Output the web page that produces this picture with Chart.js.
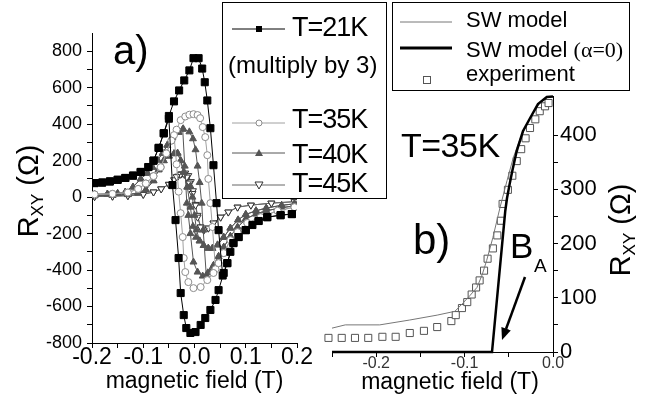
<!DOCTYPE html>
<html>
<head>
<meta charset="utf-8">
<script src="https://cdn.jsdelivr.net/npm/chart.js@4.4.1/dist/chart.umd.min.js"></script>
<style>
  body { margin: 0; background: #fff; }
  #wrap { position: relative; width: 663px; height: 403px; overflow: hidden;
          font-family: "Liberation Sans", Arial, sans-serif; color: #000; }
  canvas { position: absolute; top: 0; }
  .t { position: absolute; white-space: nowrap; line-height: 1; }
  .rot { transform: translate(-50%, -50%) rotate(-90deg); }
  .box { position: absolute; border: 1px solid #000; background: #fff; }
  .serif { font-family: "Liberation Serif", "Times New Roman", serif; }
</style>
</head>
<body>
<div id="wrap">
  <canvas id="chartA" width="330" height="403" style="left:0"></canvas>
  <canvas id="chartB" width="363" height="403" style="left:300px"></canvas>

  <!-- legend boxes -->
  <div class="box" style="left:222px;top:2px;width:163px;height:195px"></div>
  <div class="box" style="left:392px;top:2px;width:236px;height:87px"></div>

  <svg width="663" height="403" style="position:absolute;left:0;top:0">
    <line x1="232" y1="29" x2="285" y2="29" stroke="#000" stroke-width="1"/>
    <rect x="256" y="26" width="6" height="6" fill="#000"/>
    <line x1="232" y1="123" x2="285" y2="123" stroke="#a0a0a0" stroke-width="1"/>
    <circle cx="259" cy="123" r="3" fill="#fff" stroke="#8c8c8c"/>
    <line x1="232" y1="153" x2="285" y2="153" stroke="#555" stroke-width="1"/>
    <polygon points="259,149 263,156 255,156" fill="#555"/>
    <line x1="232" y1="185" x2="285" y2="185" stroke="#666" stroke-width="1"/>
    <polygon points="255,182 263,182 259,189" fill="#fff" stroke="#333"/>

    <line x1="400" y1="22" x2="452" y2="22" stroke="#777" stroke-width="1"/>
    <line x1="400" y1="48" x2="452" y2="48" stroke="#000" stroke-width="3"/>
    <rect x="423.5" y="76.5" width="7" height="7" fill="#fff" stroke="#555"/>

    <line x1="525" y1="277" x2="506" y2="329" stroke="#000" stroke-width="2.5"/>
    <polygon points="502,340 510.8,330.4 501.4,327" fill="#000"/>
  </svg>

  <div class="t" style="left:292px;top:14px;font-size:27px;letter-spacing:-1px">T=21K</div>
  <div class="t" style="left:228px;top:53px;font-size:24px">(multiply by 3)</div>
  <div class="t" style="left:292px;top:106px;font-size:27px;letter-spacing:-1px">T=35K</div>
  <div class="t" style="left:292px;top:141px;font-size:27px;letter-spacing:-1px">T=40K</div>
  <div class="t" style="left:292px;top:170px;font-size:27px;letter-spacing:-1px">T=45K</div>

  <div class="t" style="left:466px;top:9px;font-size:22px">SW model</div>
  <div class="t" style="left:466px;top:39px;font-size:22px">SW model <span class="serif">(α=0)</span></div>
  <div class="t" style="left:466px;top:63px;font-size:22px">experiment</div>

  <div class="t" style="left:113px;top:30px;font-size:40px">a)</div>
  <div class="t" style="left:413px;top:219px;font-size:42px">b)</div>
  <div class="t" style="left:401px;top:128px;font-size:34px;letter-spacing:-0.5px">T=35K</div>
  <div class="t" style="left:510px;top:228px;font-size:35px">B</div>
  <div class="t" style="left:534px;top:256px;font-size:19px">A</div>

  <div class="t rot" style="left:30px;top:191px;font-size:29px">R<span style="font-size:17px;vertical-align:-5px">XY</span> (Ω)</div>
  <div class="t rot" style="left:622px;top:230px;font-size:29px">R<span style="font-size:17px;vertical-align:-5px">XY</span> (Ω)</div>
  <div class="t" style="left:450px;top:370px;font-size:23px;transform:translateX(-50%)">magnetic field (T)</div>
</div>

<script>
// panel a) : field sweeps up then back down, R_XY in ohm
const t21UpField = [-0.195,-0.18,-0.165,-0.15,-0.135,-0.12,-0.105,-0.09,-0.08,-0.07,-0.06,-0.05,-0.04,-0.03,-0.02,-0.01,-0.002,0.008,0.015,0.02,0.025,0.031,0.037,0.043,0.047,0.055,0.064,0.076,0.086,0.1,0.125,0.142,0.168,0.19];
const t21UpR = [77,80,86,95,105,118,138,165,200,270,350,445,525,585,640,695,762,762,705,630,530,378,175,-33,-181,-430,-362,-252,-219,-181,-131,-110,-99,-93];
const t21DownField = [0.19,0.168,0.142,0.125,0.113,0.1,0.086,0.076,0.07,0.064,0.057,0.047,0.041,0.031,0.021,0.012,0.002,-0.008,-0.016,-0.021,-0.027,-0.031,-0.037,-0.043,-0.05,-0.06,-0.07,-0.08,-0.09,-0.105,-0.12,-0.135,-0.15,-0.165,-0.18,-0.195];
const t21DownR = [-93,-99,-110,-131,-153,-181,-219,-252,-300,-362,-416,-510,-564,-619,-663,-701,-740,-745,-718,-647,-526,-334,-126,66,430,350,270,200,165,138,118,105,95,86,80,77];

const t35UpField = [-0.195,-0.16,-0.13,-0.11,-0.095,-0.08,-0.066,-0.055,-0.045,-0.035,-0.027,-0.018,-0.01,-0.002,0.006,0.011,0.016,0.021,0.025,0.027,0.031,0.035,0.041,0.047,0.057,0.07,0.084,0.103,0.129,0.162,0.195];
const t35UpR = [15,18,25,45,75,115,164,240,310,370,422,442,452,455,450,433,384,329,230,100,-33,-164,-395,-362,-307,-236,-192,-142,-110,-75,-55];
const t35DownField = [0.195,0.162,0.129,0.103,0.084,0.07,0.057,0.047,0.037,0.025,0.012,-0.002,-0.012,-0.018,-0.021,-0.023,-0.027,-0.031,-0.035,-0.04,-0.045,-0.055,-0.066,-0.08,-0.095,-0.11,-0.13,-0.16,-0.195];
const t35DownR = [-55,-75,-110,-142,-192,-236,-307,-362,-416,-455,-493,-499,-466,-411,-334,-219,-88,30,180,340,310,240,164,115,75,45,25,18,15];

const t40UpField = [-0.195,-0.17,-0.15,-0.135,-0.12,-0.105,-0.092,-0.082,-0.072,-0.062,-0.053,-0.043,-0.031,-0.022,-0.01,-0.003,0.002,0.006,0.01,0.014,0.017,0.023,0.03,0.037,0.047,0.057,0.07,0.084,0.1,0.12,0.14,0.17,0.195];
const t40UpR = [15,17,20,28,55,100,131,164,203,241,285,329,356,375,358,320,260,170,80,-33,-181,-430,-410,-375,-325,-275,-215,-165,-120,-92,-75,-58,-48];
const t40DownField = [0.195,0.17,0.14,0.12,0.1,0.084,0.07,0.057,0.047,0.037,0.026,0.016,0.006,-0.002,-0.008,-0.012,-0.015,-0.019,-0.023,-0.031,-0.043,-0.053,-0.062,-0.072,-0.082,-0.092,-0.105,-0.12,-0.135,-0.15,-0.17,-0.195];
const t40DownR = [-48,-58,-75,-92,-120,-165,-215,-275,-325,-375,-415,-433,-411,-356,-200,-100,-33,170,372,356,329,285,241,203,164,131,100,55,28,20,17,15];

// second filled-triangle curve (no own legend entry)
const t40bUpField = [-0.195,-0.16,-0.13,-0.11,-0.095,-0.08,-0.07,-0.06,-0.05,-0.04,-0.033,-0.027,-0.021,-0.014,-0.008,-0.003,0.003,0.01,0.018,0.027,0.035,0.045,0.057,0.07,0.085,0.1,0.12,0.14,0.17,0.195];
const t40bUpR = [8,10,14,22,40,90,150,200,225,238,241,200,137,55,-55,-160,-220,-240,-265,-280,-280,-262,-220,-170,-125,-95,-75,-60,-45,-37];
const t40bDownField = [0.195,0.17,0.14,0.12,0.1,0.085,0.07,0.057,0.045,0.035,0.027,0.018,0.01,0.004,0.0,-0.004,-0.008,-0.014,-0.021,-0.027,-0.033,-0.04,-0.05,-0.06,-0.07,-0.08,-0.095,-0.11,-0.13,-0.16,-0.195];
const t40bDownR = [-37,-45,-60,-75,-95,-125,-170,-220,-262,-280,-280,-265,-240,-180,-100,0,60,55,137,200,241,238,225,200,150,90,40,22,14,10,8];

const t45UpField = [-0.195,-0.16,-0.13,-0.1,-0.08,-0.065,-0.05,-0.04,-0.032,-0.025,-0.018,-0.012,-0.007,-0.003,0.002,0.006,0.012,0.018,0.027,0.037,0.051,0.066,0.084,0.11,0.15,0.195];
const t45UpR = [3,5,8,15,28,45,70,95,115,128,132,118,85,35,-40,-100,-164,-181,-170,-142,-110,-82,-55,-44,-33,-25];
const t45DownField = [0.195,0.15,0.11,0.084,0.066,0.051,0.037,0.027,0.018,0.012,0.006,0.002,-0.004,-0.01,-0.015,-0.02,-0.027,-0.035,-0.05,-0.065,-0.08,-0.1,-0.13,-0.16,-0.195];
const t45DownR = [-25,-33,-44,-55,-82,-110,-142,-170,-181,-164,-110,-44,20,77,110,125,125,112,70,45,28,15,8,5,3];

const aFieldTicks = [-0.2,-0.15,-0.1,-0.05,0,0.05,0.1,0.15,0.2];
const aFieldLabels = ['-0.2','','-0.1','','0.0','','0.1','','0.2'];
const aRTicks = [-800,-700,-600,-500,-400,-300,-200,-100,0,100,200,300,400,500,600,700,800];
const aRLabels = ['-800','','-600','','-400','','-200','','0','','200','','400','','600','','800'];

// panel b) : T=35K
const expField = [-0.254,-0.239,-0.224,-0.209,-0.193,-0.178,-0.162,-0.146,-0.131,-0.115,-0.11,-0.103,-0.097,-0.092,-0.087,-0.083,-0.078,-0.074,-0.068,-0.063,-0.059,-0.057,-0.051,-0.046,-0.041,-0.036,-0.031,-0.026,-0.02,-0.015,-0.009,-0.005];
const expR = [26,26,26,26,28,28,35,39,46,57,68,81,92,106,119,132,150,172,191,215,242,273,299,325,352,374,394,413,429,444,453,459];
const swField = [-0.25,-0.235,-0.196,-0.162,-0.131,-0.111,-0.102,-0.094,-0.086,-0.08,-0.075,-0.068,-0.06,-0.052,-0.045,-0.037,-0.029,-0.022,-0.015,-0.007,0];
const swR = [44,50,50,59,68,75,90,104,119,143,169,211,266,316,358,394,422,443,459,470,471];
const sw0Field = [-0.25,-0.069,-0.054,-0.052,-0.049,-0.046,-0.041,-0.034,-0.026,-0.017,-0.007,0];
const sw0R = [0,0,260,284,310,334,371,407,431,457,470,471];

const bFieldTicks = [-0.25,-0.2,-0.15,-0.1,-0.05,0];
const bFieldLabels = ['','-0.2','','-0.1','','0.0'];
const bRTicks = [0,50,100,150,200,250,300,350,400];
const bRLabels = ['0','','100','','200','','300','','400'];

Chart.defaults.font.family = '"Liberation Sans", Arial, sans-serif';
Chart.defaults.color = '#000';

function pts(xs, ys) {
  return xs.map((x, i) => ({ x: x, y: ys[i] }));
}
function loop(upF, upR, downF, downR) {
  return pts(upF, upR).concat(pts(downF, downR));
}

const axisGrid = { drawOnChartArea: false, drawTicks: true, tickLength: 5, color: '#000', lineWidth: 1 };
const axisBorder = { display: true, color: '#000', width: 1 };

new Chart(document.getElementById('chartA'), {
  type: 'scatter',
  data: {
    datasets: [
      { label: 'T=21K', data: loop(t21UpField, t21UpR, t21DownField, t21DownR), showLine: true,
        borderColor: '#000', borderWidth: 1, pointStyle: 'rect', pointRadius: 5,
        pointBackgroundColor: '#000', pointBorderColor: '#000' },
      { label: 'T=35K', data: loop(t35UpField, t35UpR, t35DownField, t35DownR), showLine: true,
        borderColor: '#a0a0a0', borderWidth: 1, pointStyle: 'circle', pointRadius: 3.5,
        pointBackgroundColor: '#fff', pointBorderColor: '#8c8c8c', pointBorderWidth: 1 },
      { label: 'T=40K', data: loop(t40UpField, t40UpR, t40DownField, t40DownR), showLine: true,
        borderColor: '#555', borderWidth: 1, pointStyle: 'triangle', pointRadius: 4,
        pointBackgroundColor: '#555', pointBorderColor: '#555' },
      { label: '', data: loop(t40bUpField, t40bUpR, t40bDownField, t40bDownR), showLine: true,
        borderColor: '#555', borderWidth: 1, pointStyle: 'triangle', pointRadius: 4,
        pointBackgroundColor: '#555', pointBorderColor: '#555' },
      { label: 'T=45K', data: loop(t45UpField, t45UpR, t45DownField, t45DownR), showLine: true,
        borderColor: '#666', borderWidth: 1, pointStyle: 'triangle', rotation: 180, pointRadius: 4,
        pointBackgroundColor: '#fff', pointBorderColor: '#333', pointBorderWidth: 1 }
    ]
  },
  options: {
    responsive: false,
    animation: false,
    devicePixelRatio: 1,
    layout: { padding: { left: 0, right: 33, top: 33, bottom: 0 } },
    plugins: { legend: { display: false }, tooltip: { enabled: false } },
    scales: {
      x: {
        type: 'linear', min: -0.2, max: 0.2,
        afterBuildTicks: s => { s.ticks = aFieldTicks.map(v => ({ value: v })); },
        afterFit: s => { s.height = 60; s.paddingLeft = 0; s.paddingRight = 0; },
        grid: axisGrid, border: axisBorder,
        ticks: { callback: (v, i) => aFieldLabels[i], autoSkip: false, maxRotation: 0,
                 padding: -2, font: { size: 23, lineHeight: 1 } },
        title: { display: true, text: 'magnetic field (T)', font: { size: 23 },
                 padding: { top: 0, bottom: 8 } }
      },
      y: {
        type: 'linear', min: -800, max: 900,
        afterBuildTicks: s => { s.ticks = aRTicks.map(v => ({ value: v })); },
        afterFit: s => { s.width = 92; s.paddingTop = 0; s.paddingBottom = 0; },
        grid: axisGrid, border: axisBorder,
        ticks: { callback: (v, i) => aRLabels[i], autoSkip: false, padding: 5, font: { size: 18 } }
      }
    }
  }
});

new Chart(document.getElementById('chartB'), {
  type: 'scatter',
  data: {
    datasets: [
      { label: 'SW model (α=0)', data: pts(sw0Field, sw0R), showLine: true, clip: false,
        borderColor: '#000', borderWidth: 2.5, pointRadius: 0, tension: 0 },
      { label: 'SW model', data: pts(swField, swR), showLine: true, clip: false,
        borderColor: '#777', borderWidth: 1, pointRadius: 0, tension: 0 },
      { label: 'experiment', data: pts(expField, expR), showLine: false, clip: false,
        pointStyle: 'rect', pointRadius: 5, pointBackgroundColor: '#fff',
        pointBorderColor: '#555', pointBorderWidth: 1 }
    ]
  },
  options: {
    responsive: false,
    animation: false,
    devicePixelRatio: 1,
    layout: { padding: { left: 32, right: 0, top: 96, bottom: 0 } },
    plugins: { legend: { display: false }, tooltip: { enabled: false } },
    scales: {
      x: {
        type: 'linear', min: -0.25, max: 0,
        afterBuildTicks: s => { s.ticks = bFieldTicks.map(v => ({ value: v })); },
        afterFit: s => { s.height = 51; s.paddingLeft = 0; s.paddingRight = 0; },
        grid: axisGrid, border: axisBorder,
        ticks: { callback: (v, i) => bFieldLabels[i], autoSkip: false, maxRotation: 0,
                 padding: -1, color: '#333', font: { size: 16, lineHeight: 1 } }
      },
      y: {
        type: 'linear', position: 'right', min: 0, max: 472,
        afterBuildTicks: s => { s.ticks = bRTicks.map(v => ({ value: v })); },
        afterFit: s => { s.width = 110; s.paddingTop = 0; s.paddingBottom = 0; },
        grid: axisGrid, border: axisBorder,
        ticks: { callback: (v, i) => bRLabels[i], autoSkip: false, padding: 2, font: { size: 22 } }
      }
    }
  }
});
</script>
</body>
</html>
